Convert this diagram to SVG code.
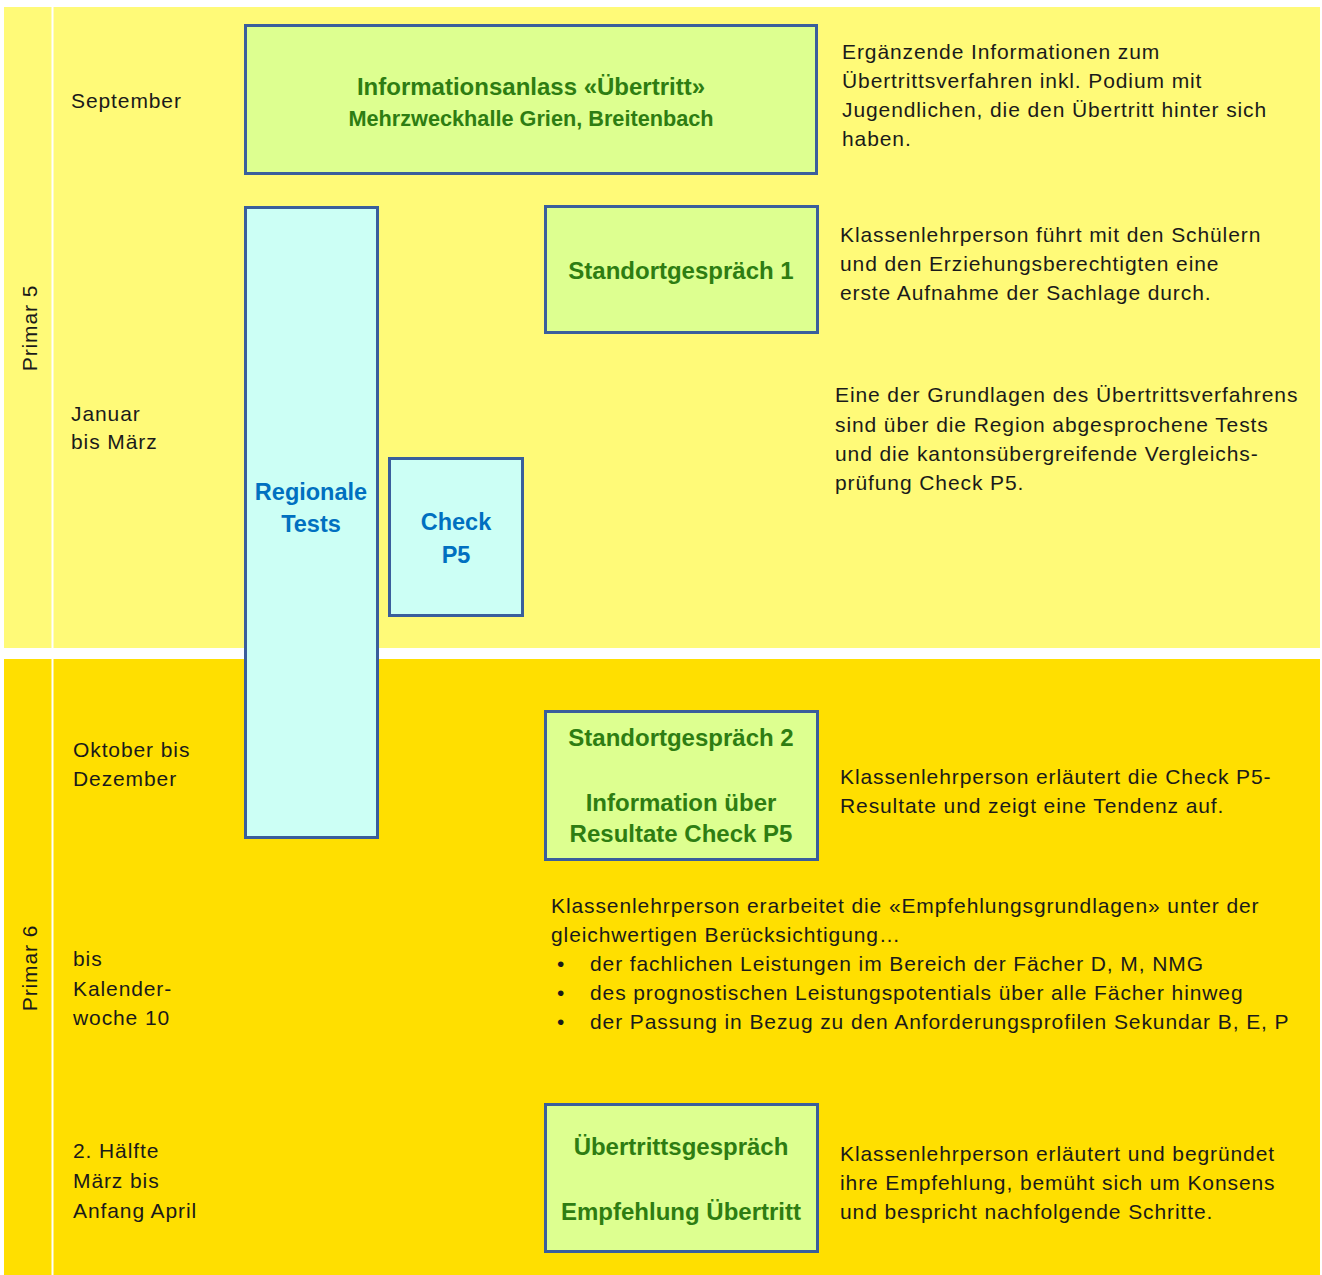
<svg xmlns="http://www.w3.org/2000/svg" width="1322" height="1275" viewBox="0 0 1322 1275">
<style>
.t{font-family:"Liberation Sans",Arial,sans-serif;font-size:21px;letter-spacing:0.9px;fill:#1a1a1a}
.g{font-family:"Liberation Sans",Arial,sans-serif;font-weight:bold;font-size:24px;fill:#2E7D12;text-anchor:middle}
.b{font-family:"Liberation Sans",Arial,sans-serif;font-weight:bold;font-size:23.5px;fill:#0070C0;text-anchor:middle}
.gb{fill:#DDFF90;stroke:#3A5E9C;stroke-width:3}
.cb{fill:#CCFFF5;stroke:#3A5E9C;stroke-width:3}
</style>
<rect x="0" y="0" width="1322" height="1275" fill="#FFFFFF"/>
<g id="band-primar5">
<rect x="4" y="7" width="1316" height="641" fill="#FFFA78"/>
<text class="t" transform="translate(37,328) rotate(-90)" text-anchor="middle">Primar 5</text>
</g>
<g id="band-primar6">
<rect x="4" y="659" width="1316" height="616" fill="#FFDF00"/>
<text class="t" transform="translate(37,968) rotate(-90)" text-anchor="middle">Primar 6</text>
</g>
<rect x="51.5" y="7" width="2" height="1268" fill="#FFFFFF"/>
<g id="dates">
<text class="t" x="71" y="108">September</text>
<text class="t" x="71" y="421">Januar</text>
<text class="t" x="71" y="449">bis März</text>
<text class="t" x="73" y="757">Oktober bis</text>
<text class="t" x="73" y="786">Dezember</text>
<text class="t" x="73" y="966">bis</text>
<text class="t" x="73" y="996">Kalender-</text>
<text class="t" x="73" y="1025">woche 10</text>
<text class="t" x="73" y="1158">2. Hälfte</text>
<text class="t" x="73" y="1188">März bis</text>
<text class="t" x="73" y="1218">Anfang April</text>
</g>
<g id="node-info">
<rect class="gb" x="245.5" y="25.5" width="571" height="148"/>
<text class="g" x="531" y="95">Informationsanlass «Übertritt»</text>
<text class="g" x="531" y="126" style="font-size:21.7px">Mehrzweckhalle Grien, Breitenbach</text>
</g>
<g id="node-regionale">
<rect class="cb" x="245.5" y="207.5" width="132" height="630"/>
<text class="b" x="311" y="500">Regionale</text>
<text class="b" x="311" y="532">Tests</text>
</g>
<g id="node-check">
<rect class="cb" x="389.5" y="458.5" width="133" height="157"/>
<text class="b" x="456" y="530">Check</text>
<text class="b" x="456" y="563">P5</text>
</g>
<g id="node-standort1">
<rect class="gb" x="545.5" y="206.5" width="272" height="126"/>
<text class="g" x="681" y="279">Standortgespräch 1</text>
</g>
<g id="node-standort2">
<rect class="gb" x="545.5" y="711.5" width="272" height="148"/>
<text class="g" x="681" y="746">Standortgespräch 2</text>
<text class="g" x="681" y="811">Information über</text>
<text class="g" x="681" y="842">Resultate Check P5</text>
</g>
<g id="node-uebertritt">
<rect class="gb" x="545.5" y="1104.5" width="272" height="147"/>
<text class="g" x="681" y="1155">Übertrittsgespräch</text>
<text class="g" x="681" y="1220">Empfehlung Übertritt</text>
</g>
<g id="descriptions">
<text class="t" x="842" y="59">Ergänzende Informationen zum</text>
<text class="t" x="842" y="88">Übertrittsverfahren inkl. Podium mit</text>
<text class="t" x="842" y="117">Jugendlichen, die den Übertritt hinter sich</text>
<text class="t" x="842" y="146">haben.</text>
<text class="t" x="840" y="242">Klassenlehrperson führt mit den Schülern</text>
<text class="t" x="840" y="271">und den Erziehungsberechtigten eine</text>
<text class="t" x="840" y="300">erste Aufnahme der Sachlage durch.</text>
<text class="t" x="835" y="402">Eine der Grundlagen des Übertrittsverfahrens</text>
<text class="t" x="835" y="432">sind über die Region abgesprochene Tests</text>
<text class="t" x="835" y="461">und die kantonsübergreifende Vergleichs-</text>
<text class="t" x="835" y="490">prüfung Check P5.</text>
<text class="t" x="840" y="784">Klassenlehrperson erläutert die Check P5-</text>
<text class="t" x="840" y="813">Resultate und zeigt eine Tendenz auf.</text>
<text class="t" x="551" y="913">Klassenlehrperson erarbeitet die «Empfehlungsgrundlagen» unter der</text>
<text class="t" x="551" y="942">gleichwertigen Berücksichtigung…</text>
<text class="t" x="557" y="971">•</text>
<text class="t" x="590" y="971">der fachlichen Leistungen im Bereich der Fächer D, M, NMG</text>
<text class="t" x="557" y="1000">•</text>
<text class="t" x="590" y="1000">des prognostischen Leistungspotentials über alle Fächer hinweg</text>
<text class="t" x="557" y="1029">•</text>
<text class="t" x="590" y="1029">der Passung in Bezug zu den Anforderungsprofilen Sekundar B, E, P</text>
<text class="t" x="840" y="1161">Klassenlehrperson erläutert und begründet</text>
<text class="t" x="840" y="1190">ihre Empfehlung, bemüht sich um Konsens</text>
<text class="t" x="840" y="1219">und bespricht nachfolgende Schritte.</text>
</g>
</svg>
